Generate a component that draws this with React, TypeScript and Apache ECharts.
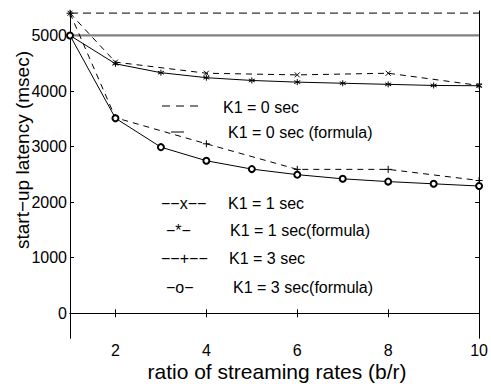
import React, { useEffect, useRef } from "react";
import * as echarts from "echarts";

const xFull = [1, 2, 3, 4, 5, 6, 7, 8, 9, 10];
const xSim = [1, 2, 4, 6, 8, 10];
const xFlat = [1, 10];

const k0Sim = [5400, 5400];
const k0Formula = [5000, 5000];
const k1Sim = [5400, 4520, 4320, 4290, 4320, 4100];
const k1Formula = [5000, 4490, 4330, 4240, 4190, 4160, 4140, 4120, 4100, 4095];
const k3Sim = [5400, 3520, 3050, 2590, 2590, 2390];
const k3Formula = [5000, 3510, 2990, 2745, 2595, 2495, 2420, 2370, 2330, 2290];

const xTicks = [2, 4, 6, 8, 10];
const yTicks = [0, 1000, 2000, 3000, 4000, 5000];

const legendNames = [
  "K1 = 0 sec",
  "K1 = 0 sec (formula)",
  "K1 = 1 sec",
  "K1 = 1 sec(formula)",
  "K1 = 3 sec",
  "K1 = 3 sec(formula)",
];

const FONT = "'Liberation Sans', Arial, Helvetica, sans-serif";

const pair = (xs: number[], ys: number[]) => xs.map((x, i) => [x, ys[i]]);

const SYM_X = "path://M0,0L10,10M10,0L0,10";
const SYM_STAR = "path://M5,0L5,10M0.7,2.5L9.3,7.5M0.7,7.5L9.3,2.5";
const SYM_PLUS = "path://M5,0L5,10M0,5L10,5";

export default function App() {
  const ref = useRef<HTMLDivElement>(null);
  useEffect(() => {
    if (!ref.current) return;
    const chart = echarts.init(ref.current, null, { renderer: "svg" });
    const axisLine = { show: true, lineStyle: { color: "#000", width: 1 } };
    const markerStyle = { color: "#000", borderColor: "#000", borderWidth: 1 };
    const plain = (v: number) => String(v);
    chart.setOption({
      animation: false,
      backgroundColor: "#fff",
      textStyle: { fontFamily: FONT },
      grid: { left: 70, right: 7.7, top: 11, bottom: 45.7, containLabel: false },
      xAxis: [
        {
          type: "value",
          min: 1,
          max: 10,
          position: "bottom",
          axisLine,
          splitLine: { show: false },
          axisTick: { show: true, inside: true, length: 4, customValues: xTicks, lineStyle: { color: "#000" } },
          axisLabel: { customValues: xTicks, formatter: plain, color: "#000", fontSize: 16, margin: 4, fontFamily: FONT },
        },
        {
          type: "value",
          min: 1,
          max: 10,
          position: "top",
          axisLine,
          splitLine: { show: false },
          axisTick: { show: true, inside: true, length: 4, customValues: [2, 4, 6, 8], lineStyle: { color: "#000" } },
          axisLabel: { show: false },
        },
      ],
      yAxis: [
        {
          type: "value",
          min: -450,
          max: 5440,
          position: "left",
          axisLine,
          splitLine: { show: false },
          axisTick: { show: true, inside: true, length: 4, customValues: yTicks, lineStyle: { color: "#000" } },
          axisLabel: { customValues: yTicks, formatter: plain, color: "#000", fontSize: 16, margin: 3, fontFamily: FONT },
        },
        {
          type: "value",
          min: -450,
          max: 5440,
          position: "right",
          axisLine,
          splitLine: { show: false },
          axisTick: { show: true, inside: true, length: 4, customValues: yTicks, lineStyle: { color: "#000" } },
          axisLabel: { show: false },
        },
      ],
      series: [
        {
          name: legendNames[0],
          type: "line",
          data: pair(xFlat, k0Sim),
          showSymbol: false,
          symbol: "none",
          lineStyle: { color: "#333", width: 1.2, type: [8, 5] },
        },
        {
          name: legendNames[1],
          type: "line",
          data: pair(xFlat, k0Formula),
          symbol: "none",
          lineStyle: { color: "#808080", width: 2.2, type: "solid" },
        },
        {
          name: legendNames[2],
          type: "line",
          data: pair(xSim, k1Sim),
          symbol: SYM_X,
          symbolSize: 5,
          itemStyle: markerStyle,
          lineStyle: { color: "#000", width: 1, type: [6, 5] },
        },
        {
          name: legendNames[3],
          type: "line",
          data: pair(xFull, k1Formula),
          symbol: SYM_STAR,
          symbolSize: 6,
          itemStyle: markerStyle,
          lineStyle: { color: "#000", width: 1, type: "solid" },
        },
        {
          name: legendNames[4],
          type: "line",
          data: pair(xSim, k3Sim),
          symbol: SYM_PLUS,
          symbolSize: 7,
          itemStyle: markerStyle,
          lineStyle: { color: "#000", width: 1, type: [6, 5] },
        },
        {
          name: legendNames[5],
          type: "line",
          data: pair(xFull, k3Formula),
          symbol: "emptyCircle",
          symbolSize: 6,
          itemStyle: { color: "#000", borderColor: "#000", borderWidth: 1 },
          lineStyle: { color: "#000", width: 1, type: "solid" },
        },
      ],
      graphic: [
        { type: "line", shape: { x1: 162, y1: 106, x2: 201, y2: 106 }, style: { stroke: "#000", lineWidth: 1, lineDash: [8, 6] } },
        { type: "line", shape: { x1: 171, y1: 132, x2: 184, y2: 132 }, style: { stroke: "#000", lineWidth: 1 } },
        { type: "text", x: 161, y: 203, style: { text: "−−x−−", fontSize: 16, fontFamily: FONT, fill: "#000", verticalAlign: "middle" } },
        { type: "text", x: 166, y: 230, style: { text: "−*−", fontSize: 16, fontFamily: FONT, fill: "#000", verticalAlign: "middle" } },
        { type: "text", x: 161, y: 258, style: { text: "−−+−−", fontSize: 16, fontFamily: FONT, fill: "#000", verticalAlign: "middle" } },
        { type: "text", x: 166, y: 287, style: { text: "−o−", fontSize: 16, fontFamily: FONT, fill: "#000", verticalAlign: "middle" } },
        { type: "text", x: 223, y: 107, style: { text: legendNames[0], fontSize: 16, fontFamily: FONT, fill: "#000", verticalAlign: "middle" } },
        { type: "text", x: 228, y: 132, style: { text: legendNames[1], fontSize: 16, fontFamily: FONT, fill: "#000", verticalAlign: "middle" } },
        { type: "text", x: 228, y: 203, style: { text: legendNames[2], fontSize: 16, fontFamily: FONT, fill: "#000", verticalAlign: "middle" } },
        { type: "text", x: 230, y: 230, style: { text: legendNames[3], fontSize: 16, fontFamily: FONT, fill: "#000", verticalAlign: "middle" } },
        { type: "text", x: 229, y: 258, style: { text: legendNames[4], fontSize: 16, fontFamily: FONT, fill: "#000", verticalAlign: "middle" } },
        { type: "text", x: 233, y: 287, style: { text: legendNames[5], fontSize: 16, fontFamily: FONT, fill: "#000", verticalAlign: "middle" } },
        {
          type: "text",
          x: 22,
          y: 150,
          rotation: Math.PI / 2,
          style: { text: "start−up latency (msec)", fontSize: 19, fontFamily: FONT, fill: "#000", align: "center", verticalAlign: "middle" },
        },
        {
          type: "text",
          x: 277,
          y: 371,
          style: { text: "ratio of streaming rates (b/r)", fontSize: 21, fontFamily: FONT, fill: "#000", align: "center", verticalAlign: "middle" },
        },
      ],
    });
    return () => chart.dispose();
  }, []);
  return (
    <div
      ref={ref}
      style={{ position: "fixed", left: 0, top: 0, width: 491, height: 384, background: "#fff" }}
    />
  );
}
